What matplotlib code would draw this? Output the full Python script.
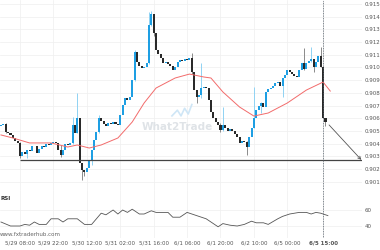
import matplotlib
matplotlib.use('Agg')
import matplotlib.pyplot as plt
import numpy as np

# hourly closes, one per candle (index 0 = 5/29 00:00)
closes = [
    0.90547, 0.90554, 0.90491, 0.90484, 0.90468, 0.90444, 0.90420, 0.90405, 0.90302, 0.90334,
    0.90318, 0.90350, 0.90342, 0.90381, 0.90378, 0.90326, 0.90357, 0.90381, 0.90373, 0.90397,
    0.90389, 0.90405, 0.90413, 0.90405, 0.90350, 0.90310, 0.90350, 0.90397, 0.90389, 0.90405,
    0.90547, 0.90484, 0.90602, 0.90247, 0.90192, 0.90176, 0.90208, 0.90271, 0.90350, 0.90428,
    0.90491, 0.90602, 0.90578, 0.90554, 0.90539, 0.90562, 0.90554, 0.90570, 0.90554, 0.90547,
    0.90625, 0.90704, 0.90759, 0.90744, 0.90767, 0.90901, 0.91122, 0.91043, 0.91011, 0.90996,
    0.91004, 0.91035, 0.91335, 0.91421, 0.91271, 0.91138, 0.91106, 0.91074, 0.91035, 0.91043,
    0.91027, 0.91011, 0.90980, 0.91004, 0.91043, 0.91059, 0.91051, 0.91067, 0.91059, 0.91074,
    0.90964, 0.90822, 0.90767, 0.90783, 0.90838, 0.90846, 0.90838, 0.90744, 0.90649, 0.90602,
    0.90570, 0.90547, 0.90507, 0.90547, 0.90523, 0.90499, 0.90515, 0.90499, 0.90476, 0.90452,
    0.90405, 0.90420, 0.90413, 0.90373, 0.90452, 0.90523, 0.90602, 0.90665, 0.90696, 0.90720,
    0.90688, 0.90807, 0.90830, 0.90838, 0.90854, 0.90878, 0.90885, 0.90854, 0.90917, 0.90941,
    0.90980, 0.90964, 0.90948, 0.90933, 0.90925, 0.90980, 0.91035, 0.90988, 0.91035, 0.91051,
    0.91067, 0.91004, 0.91043, 0.91090, 0.91004, 0.90602, 0.90570,
]
first_open = 0.90540

# candles with visible wicks: index -> (high, low)
wicks = {
    2: (0.90560, 0.90480), 8: (0.90410, 0.90290), 11: (0.90352, 0.90286), 25: (0.90390, 0.90292),
    30: (0.90610, 0.90400), 32: (0.90799, 0.90480), 34: (0.90247, 0.90113), 35: (0.90192, 0.90145),
    38: (0.90352, 0.90231), 41: (0.90625, 0.90480), 56: (0.91138, 0.90890), 62: (0.91437, 0.91030),
    63: (0.91445, 0.91330), 64: (0.91421, 0.91250), 80: (0.91114, 0.90950), 82: (0.90822, 0.90720),
    84: (0.91035, 0.90760), 92: (0.90560, 0.90490), 93: (0.90688, 0.90500), 103: (0.90420, 0.90310),
    106: (0.90846, 0.90520), 109: (0.90725, 0.90641), 118: (0.90917, 0.90767), 127: (0.91153, 0.90980),
    130: (0.91161, 0.91040), 131: (0.91067, 0.90964), 134: (0.91161, 0.91000), 136: (0.90594, 0.90539),
}

# moving average
ma_idx = [0, 5, 12, 21, 28, 32, 37, 42, 49, 55, 60, 65, 73, 79, 85, 88, 93, 100, 106, 112, 120, 128, 135, 138]
ma_val = [0.90468, 0.90444, 0.90405, 0.90405, 0.90373, 0.90389, 0.90365, 0.90389, 0.90444, 0.90570,
          0.90720, 0.90838, 0.90917, 0.90948, 0.90925, 0.90917, 0.90807, 0.90688, 0.90617, 0.90641,
          0.90720, 0.90822, 0.90885, 0.90814]

# RSI panel
rsi_idx = [0, 4, 8, 10, 12, 14, 16, 19, 21, 24, 26, 28, 32, 35, 38, 42, 44, 47, 49, 51, 53, 55, 58, 60,
           63, 65, 67, 70, 72, 75, 78, 80, 83, 86, 91, 93, 96, 99, 102, 105, 107, 110, 112, 116, 118,
           121, 125, 128, 130, 132, 134, 137]
rsi_val = [45, 40, 40, 42, 41, 45, 42, 42, 49, 49, 45, 49, 49, 42, 42, 56, 54, 60, 55, 60, 57, 61, 55, 55,
           59, 57, 57, 57, 51, 51, 57, 55, 52, 49, 39, 43, 41, 40, 42, 46, 44, 44, 42, 49, 52,
           55, 57, 57, 55, 57, 56, 53]

support = 0.90272
arrow_from = (137.5, 0.90547)
arrow_to = 151.0
now_idx = 135

tick_idx = [8, 22, 36, 50, 64, 78, 92, 106, 120, 135]
tick_lbl = ['5/29 08:00', '5/29 22:00', '5/30 12:00', '5/31 02:00', '5/31 16:00',
            '6/1 06:00', '6/1 20:00', '6/2 10:00', '6/5 00:00', '6/5 15:00']
price_ticks = [0.901, 0.902, 0.903, 0.904, 0.905, 0.906, 0.907, 0.908, 0.909,
               0.910, 0.911, 0.912, 0.913, 0.914, 0.915]

up_body, up_wick = '#1e9fe3', '#8fd2f3'
dn_body, dn_wick = '#2a2a2a', '#8a8a8a'

fig = plt.figure(figsize=(3.8, 2.5), dpi=100)
ax = fig.add_axes([0, 0.24, 362 / 380, 0.76])
rax = fig.add_axes([0, 0.048, 362 / 380, 0.192])

n = len(closes)
x = np.arange(n)
c = np.array(closes)
o = np.array([first_open] + closes[:-1])
up = c >= o

# wicks first, bodies on top
for i, (hi, lo) in wicks.items():
    ax.vlines(i, lo, hi, color=up_wick if up[i] else dn_wick, lw=0.7, zorder=2)
h = np.maximum(np.abs(c - o), 0.00003)
ax.bar(x, h, bottom=np.minimum(o, c), width=0.85,
       color=np.where(up, up_body, dn_body), lw=0, zorder=3)

ax.plot(ma_idx, ma_val, color='#f26b6b', lw=0.7, zorder=4)
ax.hlines(support, tick_idx[0], arrow_to + 0.3, color='#444444', lw=0.9, zorder=5)
ax.annotate('', xy=(arrow_to, support), xytext=arrow_from,
            arrowprops=dict(arrowstyle='->', color='#555555', lw=0.6,
                            shrinkA=0, shrinkB=0, mutation_scale=5), zorder=6)

# watermark
ax.text(0.49, 0.33, 'What2Trade', transform=ax.transAxes, ha='center', va='center',
        fontsize=7.5, fontweight='bold', color='#dfe3e7', zorder=1)
ax.plot([0.475, 0.49, 0.5, 0.51, 0.52, 0.53], [0.39, 0.42, 0.39, 0.43, 0.40, 0.45],
        transform=ax.transAxes, color='#cfe6f6', lw=1.2, zorder=1)

ax.set_xlim(-0.4, 151.3)
ax.set_ylim(0.90034, 0.91532)
ax.set_yticks(price_ticks)
ax.set_yticklabels(['%.3f' % p for p in price_ticks])
ax.yaxis.tick_right()
ax.set_xticks(tick_idx)
ax.set_xticklabels([])

rax.plot(rsi_idx, rsi_val, color='#555555', lw=0.6)
rax.set_xlim(ax.get_xlim())
rax.set_ylim(25, 85)
rax.set_yticks([40, 60])
rax.yaxis.tick_right()
rax.set_xticks(tick_idx)
rax.set_xticklabels(tick_lbl)
for lbl in rax.get_xticklabels()[-1:]:
    lbl.set_fontweight('bold')

for a in (ax, rax):
    a.axvline(now_idx, color='#56606a', lw=0.6, ls=(0, (1, 1)), zorder=7)
    a.grid(True, color='#efefef', lw=0.5)
    a.set_axisbelow(True)
    a.tick_params(length=0, labelsize=4, labelcolor='#555555', pad=2)
    for s in a.spines.values():
        s.set_visible(False)
rax.tick_params(axis='x', pad=1.5)

fig.text(0.002, 0.208, 'RSI', fontsize=4, fontweight='bold', color='#333333', va='center')
fig.text(0.0, 0.06, 'www.fxtraderhub.com', fontsize=4, color='#666666', va='center')

fig.savefig('out.png', dpi=100, facecolor='white')
